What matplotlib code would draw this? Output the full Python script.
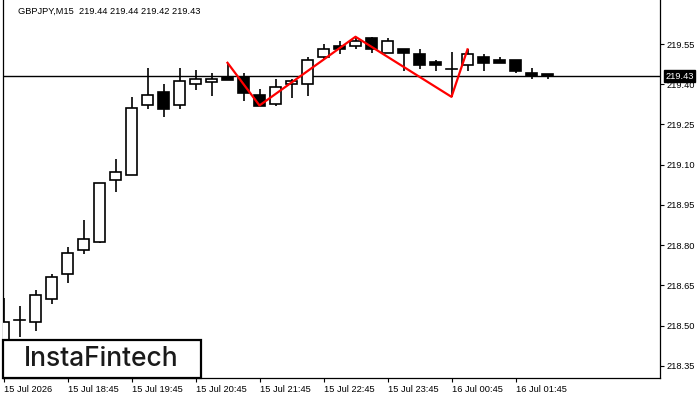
import matplotlib
matplotlib.use("Agg")
import numpy as np
from matplotlib import pyplot as plt
from matplotlib.patches import Rectangle

# GBPJPY M15 candles (first bar 15 Jul 17:45)
opens = [218.40, 218.521, 218.514, 218.601, 218.691, 218.781, 218.811, 219.042, 219.061, 219.322,
         219.370, 219.322, 219.400, 219.410, 219.428, 219.428, 219.359, 219.328, 219.400, 219.400,
         219.500, 219.543, 219.543, 219.572, 219.518, 219.530, 219.513, 219.483, 219.458, 219.471,
         219.500, 219.490, 219.490, 219.441, 219.44]
highs = [218.603, 218.574, 218.633, 218.693, 218.793, 218.894, 219.033, 219.121, 219.352, 219.461,
         219.401, 219.461, 219.452, 219.441, 219.480, 219.441, 219.381, 219.418, 219.418, 219.502,
         219.550, 219.561, 219.577, 219.576, 219.572, 219.530, 219.530, 219.490, 219.519, 219.530,
         219.513, 219.500, 219.490, 219.461, 219.44]
lows = [218.38, 218.458, 218.480, 218.582, 218.660, 218.768, 218.809, 218.999, 219.060, 219.309,
        219.279, 219.309, 219.379, 219.357, 219.417, 219.338, 219.320, 219.320, 219.350, 219.357,
        219.490, 219.512, 219.530, 219.518, 219.518, 219.450, 219.458, 219.450, 219.354, 219.450,
        219.450, 219.480, 219.441, 219.418, 219.42]
closes = [218.514, 218.521, 218.614, 218.682, 218.770, 218.822, 219.031, 219.072, 219.310, 219.359,
          219.309, 219.411, 219.418, 219.418, 219.417, 219.369, 219.320, 219.389, 219.411, 219.489,
          219.530, 219.530, 219.560, 219.530, 219.560, 219.518, 219.471, 219.471, 219.458, 219.513,
          219.480, 219.480, 219.450, 219.431, 219.43]

# pattern drawn in red (bar index, price)
pattern_idx = [14, 16, 22, 28, 29]
pattern_px = [219.480, 219.321, 219.577, 219.353, 219.530]

last_price = 219.43
title = "GBPJPY,M15  219.44 219.44 219.42 219.43"

yticks = [218.35, 218.50, 218.65, 218.80, 218.95, 219.10, 219.25, 219.40, 219.55]
xtick_idx = [0, 4, 8, 12, 16, 20, 24, 28, 32]
xtick_labels = ["15 Jul 2026", "15 Jul 18:45", "15 Jul 19:45", "15 Jul 20:45", "15 Jul 21:45",
                "15 Jul 22:45", "15 Jul 23:45", "16 Jul 00:45", "16 Jul 01:45"]

plt.rcParams['font.family'] = ['Liberation Sans', 'DejaVu Sans']

W, H = 700, 400
fig = plt.figure(figsize=(7, 4), dpi=100)
ax = fig.add_axes([3 / W, 22 / H, 657 / W, 378 / H])

lw = 1.2
bw = 0.66
for i, (o, h, l, c) in enumerate(zip(opens, highs, lows, closes)):
    ax.plot([i, i], [l, h], color="black", lw=lw, zorder=2, solid_capstyle="butt")
    if abs(c - o) < 1e-6:
        ax.plot([i - bw / 2, i + bw / 2], [o, o], color="black", lw=lw, zorder=3)
        continue
    face = "white" if c > o else "black"
    ax.add_patch(Rectangle((i - bw / 2, min(o, c)), bw, abs(c - o), facecolor=face,
                           edgecolor="black", lw=lw, zorder=3))

ax.axhline(last_price, color="black", lw=1.0, zorder=1)
ax.plot(pattern_idx, pattern_px, color="#ff0000", lw=1.6, zorder=5)

ax.set_xlim((3 - 3.5) / 16, (660 - 3.5) / 16)
ax.set_ylim(219.55 - 334 / 268.3, 219.55 + 44 / 268.3)

ax.yaxis.tick_right()
ax.set_yticks(yticks)
ax.set_yticklabels(["%.2f" % v for v in yticks])
ax.set_xticks(xtick_idx)
ax.set_xticklabels(xtick_labels)
ax.tick_params(axis="both", direction="out", length=3, width=0.8, labelsize=6.7, colors="black")
ax.tick_params(axis="y", pad=2)
ax.tick_params(axis="x", pad=2)
for lab in ax.get_xticklabels():
    lab.set_ha("left")

ax.spines["top"].set_visible(False)
for s in ["left", "right", "bottom"]:
    ax.spines[s].set_linewidth(0.9)

# current price tag
ax.annotate("%.2f" % last_price, xy=(1, last_price), xycoords=("axes fraction", "data"),
            xytext=(4, 0), textcoords="offset points", ha="left", va="center",
            fontsize=6.7, color="white",
            bbox=dict(boxstyle="square,pad=0.15", facecolor="black", edgecolor="black"))

fig.text(18 / W, 1 - 11 / H, title, fontsize=6.7, ha="left", va="center", color="black")

# logo box
fig.patches.append(Rectangle((3 / W, 22 / H), 198 / W, 38 / H, transform=fig.transFigure,
                             facecolor="white", edgecolor="black", lw=1.6, zorder=10))
fig.text(101 / W, 1 - 359 / H, "InstaFintech", fontsize=19, family=["Inter", "DejaVu Sans"],
         weight="medium", ha="center", va="center", color="#1a1a1a", zorder=11)

fig.savefig("out.png", dpi=100)
